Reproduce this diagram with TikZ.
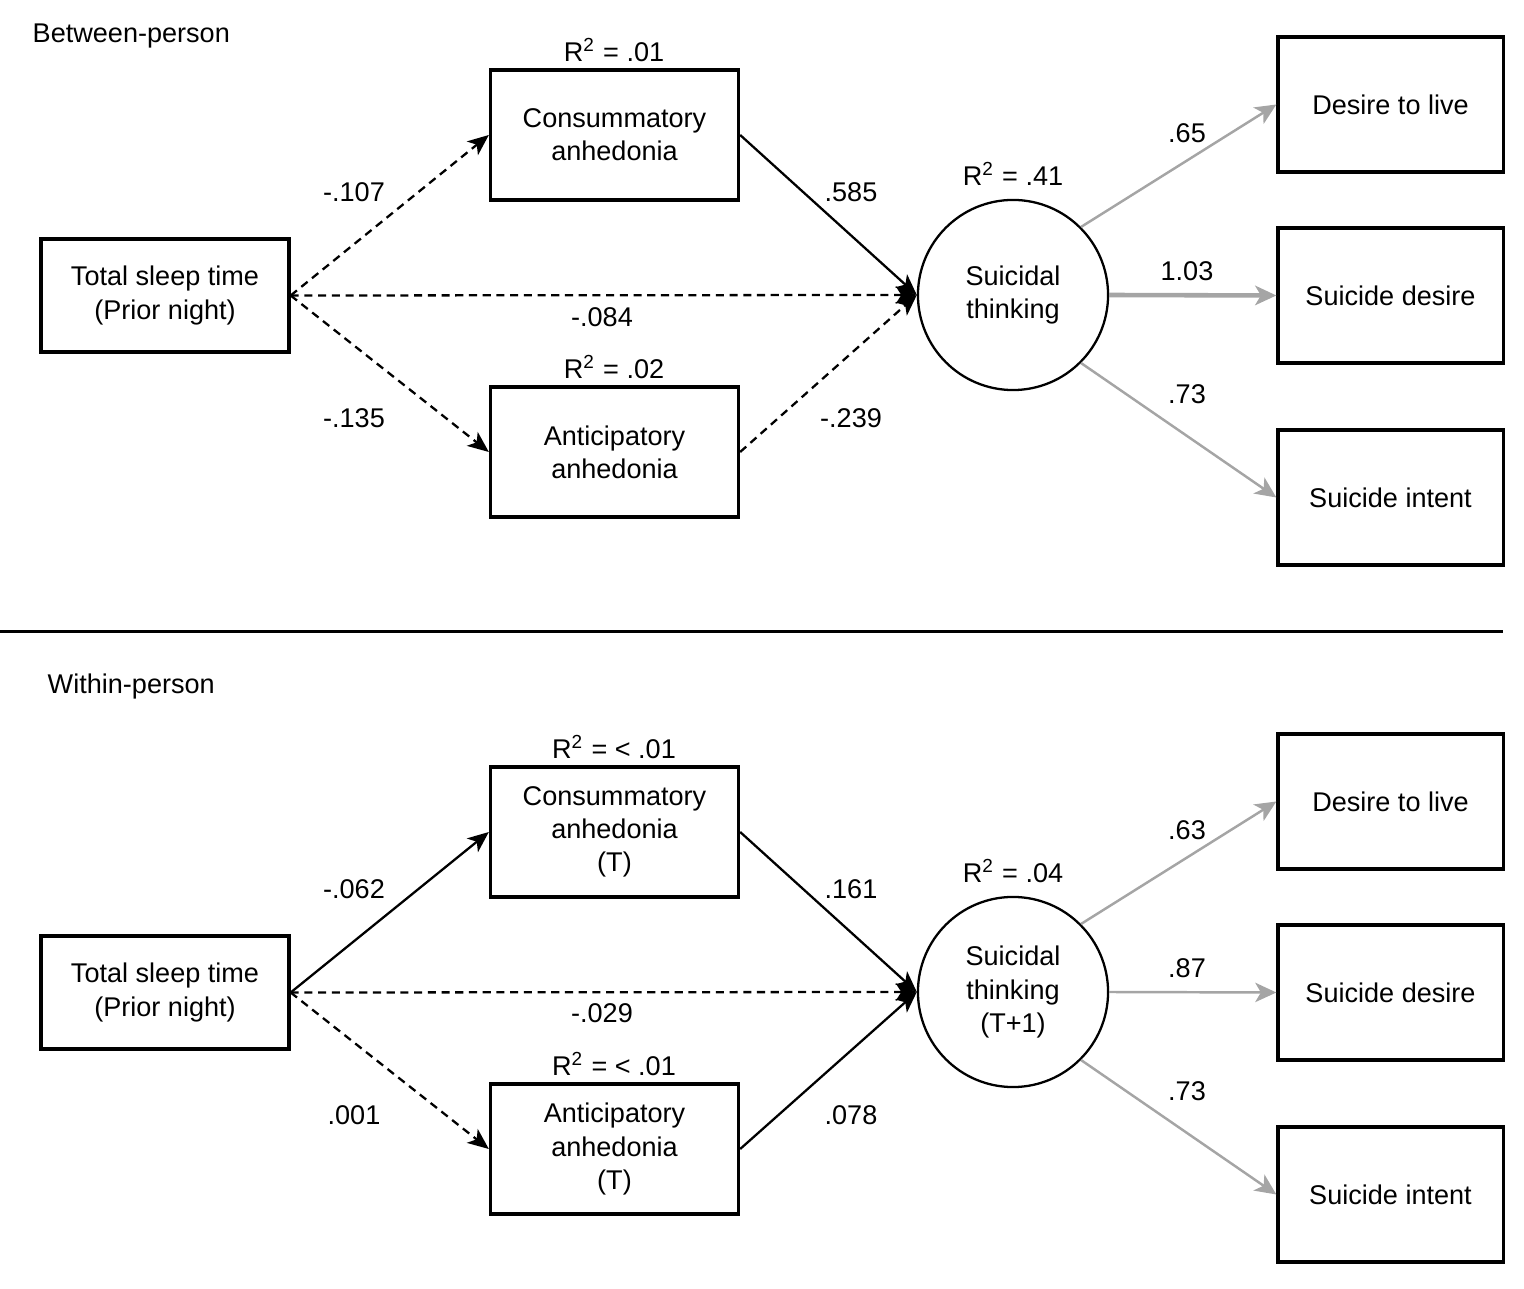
\documentclass[tikz,border=0pt]{standalone}
\usepackage{fontspec}
\setmainfont{Liberation Sans}
\usetikzlibrary{arrows.meta}
\definecolor{pathgray}{RGB}{165,165,165}

\begin{document}
\begin{tikzpicture}[x=0.01cm,y=-0.01cm]
\tikzstyle{every node}+=[inner sep=0pt, font=\fontsize{7.7}{9.4}\selectfont]
\tikzstyle{box}=[draw=black, line width=0.9pt, minimum width=2.48cm, align=center]
\tikzstyle{outbox}=[draw=black, line width=0.9pt, minimum width=2.25cm, minimum height=1.35cm, align=center]
\tikzstyle{latent}=[draw=black, circle, line width=0.65pt, minimum size=1.9cm, align=center]
\tikzstyle{blk}=[draw=black, line width=0.65pt, -{Stealth[length=6pt,width=5pt,inset=1.6pt]}]
\tikzstyle{gry}=[draw=pathgray, line width=0.7pt, -{Stealth[length=6pt,width=5.5pt,inset=1.6pt]}]
\tikzstyle{dsh}=[dash pattern=on 2.3pt off 1.6pt]
\useasboundingbox (0,0) rectangle (1524,1289);
\node [anchor=west] (btitle) at (32,36) {Between-person};
\node [box, minimum height=1.13cm] (bsleep) at (165,295.5) {Total sleep time\\(Prior night)};
\node [box, minimum height=1.30cm] (bcons) at (614.5,135) {Consummatory\\anhedonia};
\node [box, minimum height=1.30cm] (bant) at (614.5,452) {Anticipatory\\anhedonia};
\node [latent] (bst) at (1013,295) {Suicidal\\thinking};
\node [outbox] (blive) at (1390.5,104.5) {Desire to live};
\node [outbox] (bdesire) at (1390.5,295.5) {Suicide desire};
\node [outbox] (bintent) at (1390.5,497.5) {Suicide intent};
\node (brcons) at (614,50) {R\textsuperscript{2} = .01};
\node (brant) at (614,367) {R\textsuperscript{2} = .02};
\node (brst) at (1013,174) {R\textsuperscript{2} = .41};
\draw [blk, dsh] (bsleep.east) -- (bcons.west);
\draw [blk, dsh] (bsleep.east) -- (bst.west);
\draw [blk, dsh] (bsleep.east) -- (bant.west);
\draw [blk] (bcons.east) -- (bst.west);
\draw [blk, dsh] (bant.east) -- (bst.west);
\draw [gry] (bst.45) -- (blive.west);
\draw [gry, line width=1.3pt] (bst.east) -- (bdesire.west);
\draw [gry] (bst.-45) -- (bintent.west);
\node (bl1) at (354,192) {-.107};
\node (bl2) at (602,317) {-.084};
\node (bl3) at (354,418) {-.135};
\node (bl4) at (851,192) {.585};
\node (bl5) at (851,418) {-.239};
\node (bl6) at (1187,133) {.65};
\node (bl7) at (1187,271) {1.03};
\node (bl8) at (1187,394) {.73};
\coordinate (rulea) at (0,632);
\coordinate (ruleb) at (1503,632);
\draw [line width=0.85pt] (rulea) -- (ruleb);
\node [anchor=west] (wtitle) at (47,687) {Within-person};
\node [box, minimum height=1.13cm] (wsleep) at (165,992.5) {Total sleep time\\(Prior night)};
\node [box, minimum height=1.30cm] (wcons) at (614.5,832) {Consummatory\\anhedonia\\(T)};
\node [box, minimum height=1.30cm] (want) at (614.5,1149) {Anticipatory\\anhedonia\\(T)};
\node [latent] (wst) at (1013,992) {Suicidal\\thinking\\(T+1)};
\node [outbox] (wlive) at (1390.5,801.5) {Desire to live};
\node [outbox] (wdesire) at (1390.5,992.5) {Suicide desire};
\node [outbox] (wintent) at (1390.5,1194.5) {Suicide intent};
\node (wrcons) at (614,747) {R\textsuperscript{2} = < .01};
\node (wrant) at (614,1064) {R\textsuperscript{2} = < .01};
\node (wrst) at (1013,871) {R\textsuperscript{2} = .04};
\draw [blk] (wsleep.east) -- (wcons.west);
\draw [blk, dsh] (wsleep.east) -- (wst.west);
\draw [blk, dsh] (wsleep.east) -- (want.west);
\draw [blk] (wcons.east) -- (wst.west);
\draw [blk] (want.east) -- (wst.west);
\draw [gry] (wst.45) -- (wlive.west);
\draw [gry] (wst.east) -- (wdesire.west);
\draw [gry] (wst.-45) -- (wintent.west);
\node (wl1) at (354,889) {-.062};
\node (wl2) at (602,1013) {-.029};
\node (wl3) at (354,1115) {.001};
\node (wl4) at (851,889) {.161};
\node (wl5) at (851,1115) {.078};
\node (wl6) at (1187,830) {.63};
\node (wl7) at (1187,968) {.87};
\node (wl8) at (1187,1091) {.73};
\end{tikzpicture}
\end{document}
